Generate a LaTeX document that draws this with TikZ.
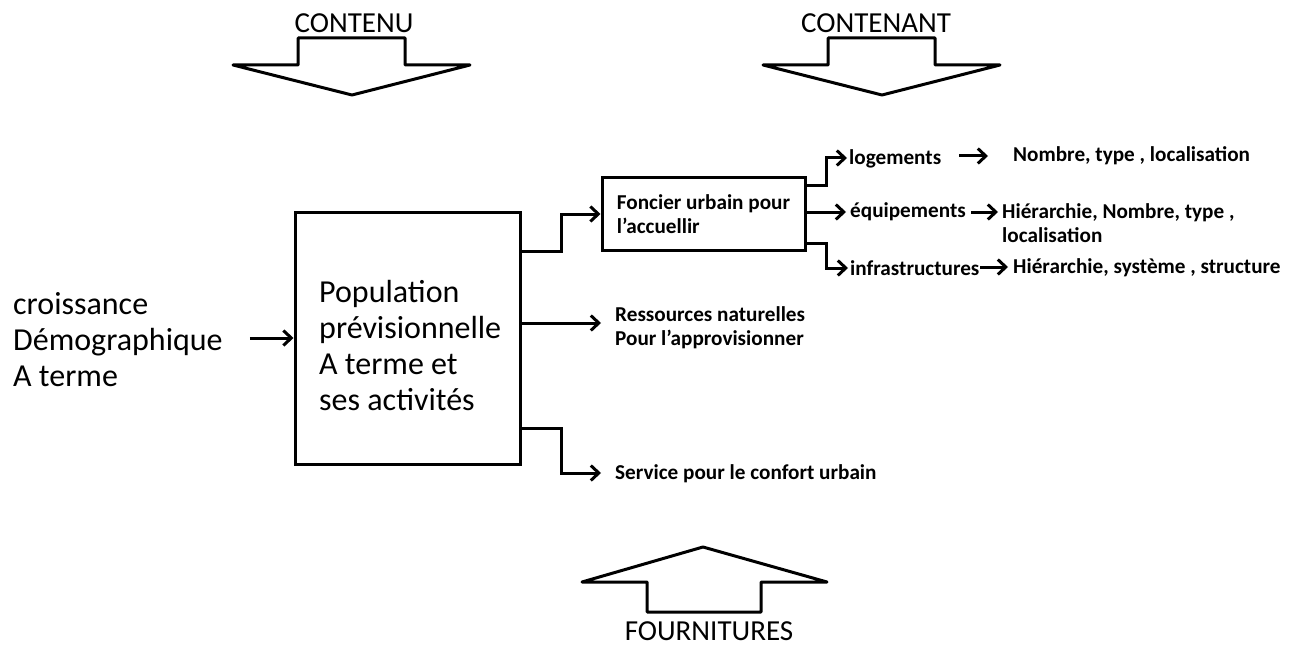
\documentclass[tikz,border=0pt]{standalone}
\usepackage{fontspec}
\setmainfont{Carlito}
\usetikzlibrary{arrows.meta,calc}
\tikzset{
  big/.style={font=\fontsize{32}{36}\selectfont, inner sep=0pt, align=left},
  head/.style={font=\fontsize{29}{33}\selectfont, inner sep=0pt, anchor=base},
  small/.style={font=\fontsize{21.2}{24}\selectfont\bfseries, inner sep=0pt, align=left},
  boxed/.style={draw, line width=3pt, inner sep=0pt},
  conn/.style={line width=3pt, line join=miter, -{Straight Barb[length=8pt,width=15pt,line width=3pt]}},
  blockarrow/.style={draw, line width=3pt, line join=round, fill=white},
}
\begin{document}
\begin{tikzpicture}[x=1pt,y=-1pt]
\useasboundingbox (0,0) rectangle (1292,647);
% block arrows
\draw[blockarrow] (298,38) -- (405,38) -- (405,65) -- (470,65) -- (352,95) -- (233,65) -- (298,65) -- cycle;
\node[head] (contenu) at (354,33) {CONTENU};
\draw[blockarrow] (828,38) -- (935,38) -- (935,65) -- (1000,65) -- (882,95) -- (763,65) -- (828,65) -- cycle;
\node[head] (contenant) at (876,33) {CONTENANT};
\draw[blockarrow] (703,547) -- (827,582) -- (761,582) -- (761,612) -- (647,612) -- (647,582) -- (582,582) -- cycle;
\node[head] (fourn) at (709,640) {FOURNITURES};
% nodes
\node[big, anchor=west] (croiss) at (13,340) {croissance\\Démographique\\A terme};
\node[boxed, minimum width=225pt, minimum height=252pt] (main) at (407.5,338) {};
\node[big, anchor=west] (maintext) at (319,346) {Population\\prévisionnelle\\A terme et\\ses activités};
\node[boxed, small, minimum width=203pt, minimum height=72pt] (foncier) at (703.5,214) {Foncier urbain pour\\l’accuellir};
\node[small, anchor=west] (ress) at (615,328) {Ressources naturelles\\Pour l’approvisionner};
\node[small, anchor=base west] (serv) at (615,479) {Service pour le  confort urbain};
\node[small, anchor=base west] (loge) at (849,165) {logements};
\node[small, anchor=base west] (equip) at (850,218) {équipements};
\node[small, anchor=base west] (infra) at (850,275) {infrastructures};
\node[small, anchor=base west] (nombre) at (1013,162) {Nombre, type , localisation};
\node[small, anchor=west] (hier1) at (1002,223) {Hiérarchie, Nombre, type ,\\localisation};
\node[small, anchor=base west] (hier2) at (1013,273) {Hiérarchie, système ,  structure};
% connectors
\draw[conn] ([xshift=27pt]croiss.east |- main.west) -- (main.west);
\draw[conn] (main.east |- foncier.south) -- ++(40,0) |- (foncier.west);
\draw[conn] ([yshift=5pt]main.east |- ress.west) -- ([xshift=-14pt,yshift=5pt]ress.west);
\draw[conn] ([yshift=37pt]main.south east) -- ++(40,0) |- ([xshift=-14pt,yshift=6pt]serv.base west);
\draw[conn] ([yshift=-9pt]foncier.north east) -- ++(20,0) |- ([xshift=-2pt,yshift=7pt]loge.base west);
\draw[conn] ([yshift=6pt]foncier.east |- equip.base west) -- ([xshift=-4pt,yshift=6pt]equip.base west);
\draw[conn] ([yshift=8pt]foncier.south east) -- ++(20,0) |- ([xshift=-2pt,yshift=7pt]infra.base west);
\draw[conn] ([xshift=-54pt,yshift=6pt]nombre.base west) -- ([xshift=-25pt,yshift=6pt]nombre.base west);
\draw[conn] ([xshift=-31pt,yshift=11pt]hier1.west) -- ([xshift=-4pt,yshift=11pt]hier1.west);
\draw[conn] ([xshift=-33pt,yshift=6pt]hier2.base west) -- ([xshift=-5pt,yshift=6pt]hier2.base west);
\end{tikzpicture}
\end{document}
